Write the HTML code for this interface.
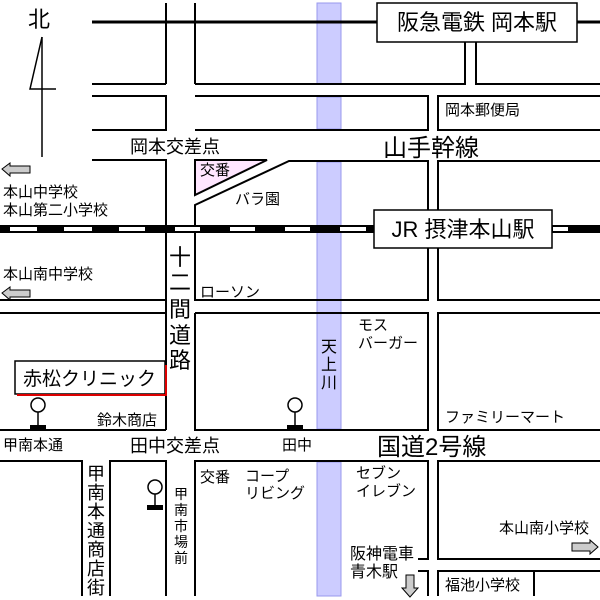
<!DOCTYPE html>
<html><head><meta charset="utf-8"><style>
html,body{margin:0;padding:0;background:#fff;}
svg{display:block;font-family:"Liberation Sans","Noto Sans CJK JP",sans-serif;}
text{fill:#000;}
</style></head><body>
<svg width="600" height="600" viewBox="0 0 600 600" xmlns="http://www.w3.org/2000/svg">
<g fill="#ccccff" stroke="#9999ee" stroke-width="1">
<rect x="317" y="3" width="24" height="81"/>
<rect x="317" y="97" width="24" height="32"/>
<rect x="317" y="162" width="24" height="267"/>
<rect x="317" y="462" width="24" height="134"/>
</g>
<polygon points="195,160 267,160 195,195" fill="#ffe6ff" stroke="#000" stroke-width="2"/>
<g stroke="#000" stroke-width="2" fill="none">
<line x1="92" y1="22" x2="600" y2="22" stroke-width="3"/>
<line x1="166" y1="3" x2="166" y2="84"/>
<line x1="195" y1="3" x2="195" y2="84"/>
<polyline points="92,84 166,84"/>
<polyline points="195,84 465,84 465,42"/>
<polyline points="476,42 476,84 600,84"/>
<polyline points="92,96 166,96 166,130 92,130"/>
<polyline points="195,96 428,96 428,130 195,130"/>
<polyline points="600,96 438,96 438,130 600,130"/>
<polyline points="92,160 166,160 166,226"/>
<polyline points="195,226 195,205 289,161 428,161 428,210"/>
<polyline points="438,210 438,161 600,161"/>
<polyline points="0,300 166,300"/>
<line x1="166" y1="233" x2="166" y2="430"/>
<polyline points="195,233 195,300 428,300 428,248"/>
<polyline points="438,248 438,300 600,300"/>
<polyline points="0,313 166,313"/>
<polyline points="195,313 428,313 428,430 195,430 195,313"/>
<polyline points="600,313 438,313 438,430 600,430"/>
<polyline points="0,430 166,430"/>
<polyline points="0,461 82,461 82,596"/>
<polyline points="110,596 110,461 166,461 166,596"/>
<polyline points="195,596 195,461 428,461 428,559 418,559"/>
<polyline points="418,571 428,571 428,596"/>
<polyline points="600,461 438,461 438,559 600,559"/>
<polyline points="600,571 438,571 438,596"/>
<line x1="534" y1="571" x2="534" y2="596"/>
</g>
<rect x="0" y="225" width="600" height="8" fill="#000"/>
<g fill="#fff">
<rect x="10" y="227" width="27" height="4"/><rect x="64" y="227" width="28" height="4"/>
<rect x="119" y="227" width="26" height="4"/><rect x="175" y="227" width="25" height="4"/>
<rect x="230" y="227" width="25" height="4"/><rect x="285" y="227" width="25" height="4"/>
<rect x="340" y="227" width="26" height="4"/><rect x="553" y="227" width="15" height="4"/>
</g>
<rect x="377" y="3" width="200" height="39" fill="#fff" stroke="#000" stroke-width="1.5"/>
<text x="477" y="30" font-size="22" text-anchor="middle">阪急電鉄 岡本駅</text>
<rect x="374" y="210" width="178" height="38" fill="#fff" stroke="#000" stroke-width="1.5"/>
<text x="463" y="237" font-size="22" text-anchor="middle">JR 摂津本山駅</text>
<text x="28" y="27" font-size="22">北</text>
<g stroke="#000" stroke-width="1.5" fill="none">
<polyline points="42,37 30,89 56,89"/><line x1="42" y1="37" x2="42" y2="157"/>
</g>
<g fill="#ccc" stroke="#000" stroke-width="1">
<polygon points="2,169 10,163 10,166 30,166 30,173 10,173 10,176"/>
<polygon points="2,293 10,287 10,290 30,290 30,297 10,297 10,300"/>
<polygon points="598,547 590,540 590,543 572,543 572,551 590,551 590,554"/>
<polygon points="410,597 402,588 406,588 406,575 414,575 414,588 418,588"/>
</g>
<rect x="15" y="361" width="150" height="33" fill="#fff" stroke="#000" stroke-width="1.5"/>
<polyline points="17,395 166,395 166,365" fill="none" stroke="#d00" stroke-width="2"/>
<text x="23" y="385" font-size="19">赤松クリニック</text>
<g stroke="#000" stroke-width="1.5" fill="#fff">
<circle cx="38" cy="405" r="7"/><line x1="38" y1="412" x2="38" y2="425"/>
<circle cx="295" cy="405" r="7"/><line x1="295" y1="412" x2="295" y2="425"/>
<circle cx="155" cy="487" r="7"/><line x1="155" y1="494" x2="155" y2="505"/>
</g>
<rect x="30" y="425" width="16" height="5"/><rect x="287" y="425" width="16" height="5"/><rect x="147" y="505" width="16" height="5"/>
<g font-size="15">
<text x="200" y="175">交番</text>
<text x="235" y="204">バラ園</text>
<text x="3" y="197">本山中学校</text>
<text x="3" y="215">本山第二小学校</text>
<text x="3" y="279">本山南中学校</text>
<text x="200" y="297">ローソン</text>
<text x="445" y="115">岡本郵便局</text>
<text x="97" y="425">鈴木商店</text>
<text x="3" y="450">甲南本通</text>
<text x="282" y="450">田中</text>
<text x="200" y="482">交番</text>
<text x="245" y="481">コープ</text>
<text x="245" y="498">リビング</text>
<text x="358" y="330">モス</text>
<text x="358" y="348">バーガー</text>
<text x="445" y="422">ファミリーマート</text>
<text x="356" y="478">セブン</text>
<text x="356" y="496">イレブン</text>
<text x="499" y="533">本山南小学校</text>
<text x="445" y="590">福池小学校</text>
</g>
<g font-size="16">
<text x="350" y="559">阪神電車</text>
<text x="350" y="577">青木駅</text>
</g>
<g font-size="18">
<text x="130" y="153">岡本交差点</text>
<text x="130" y="452">田中交差点</text>
</g>
<text x="383" y="156" font-size="24">山手幹線</text>
<text x="377" y="455" font-size="24">国道2号線</text>
<g font-size="22" text-anchor="middle">
<text x="180" y="265">十</text><text x="180" y="290">二</text><text x="180" y="317">間</text><text x="180" y="343">道</text><text x="180" y="368">路</text>
</g>
<g font-size="16" text-anchor="middle">
<text x="329" y="352">天</text><text x="329" y="370">上</text><text x="329" y="388">川</text>
</g>
<g font-size="18" text-anchor="middle">
<text x="96" y="480">甲</text><text x="96" y="499">南</text><text x="96" y="518">本</text><text x="96" y="537">通</text><text x="96" y="556">商</text><text x="96" y="575">店</text><text x="96" y="594">街</text>
</g>
<g font-size="14" text-anchor="middle">
<text x="181" y="499">甲</text><text x="181" y="515">南</text><text x="181" y="531">市</text><text x="181" y="547">場</text><text x="181" y="563">前</text>
</g>
</svg>
</body></html>
